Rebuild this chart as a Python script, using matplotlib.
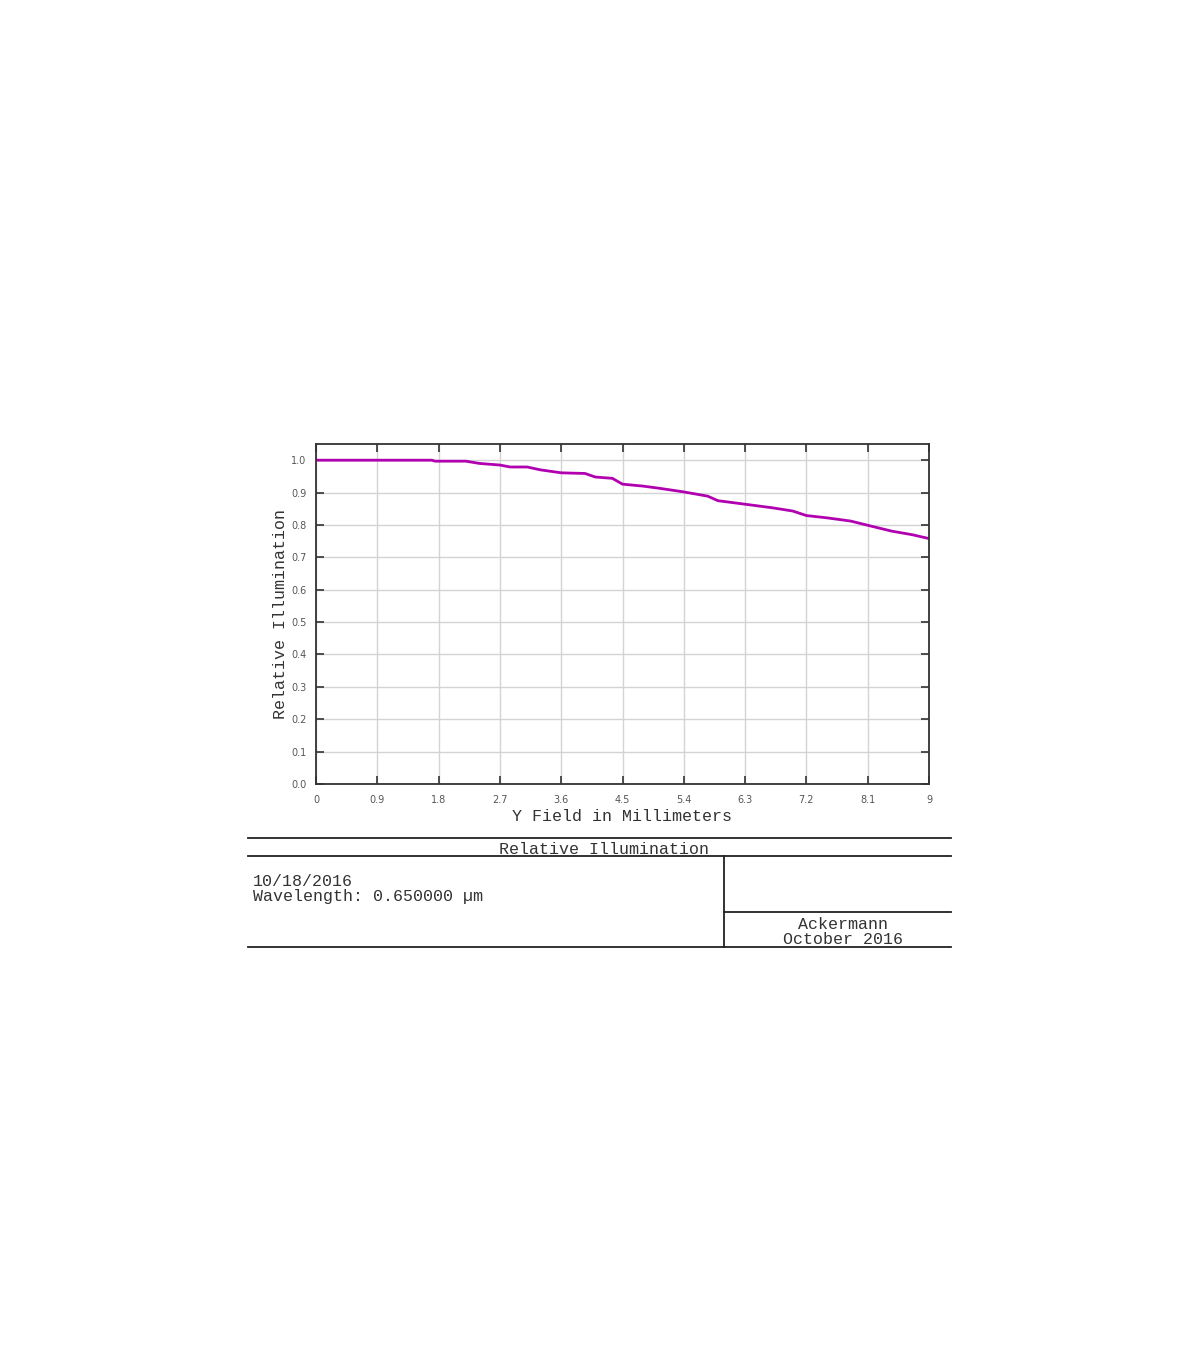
import matplotlib
matplotlib.use("Agg")
import matplotlib.pyplot as plt
from matplotlib.lines import Line2D

# ---- data ----
x_mm = [0, 1.7, 1.75, 2.2, 2.4, 2.7, 2.85, 3.1, 3.3, 3.6, 3.95, 4.1, 4.35, 4.5,
        4.8, 5.05, 5.4, 5.75, 5.9, 6.3, 6.7, 7.0, 7.2, 7.5, 7.85, 8.1, 8.45, 8.75, 9.0]
rel_illum = [1.0, 1.0, 0.997, 0.997, 0.99, 0.985, 0.979, 0.979, 0.97, 0.961, 0.959,
             0.948, 0.944, 0.926, 0.92, 0.913, 0.902, 0.889, 0.875, 0.864, 0.853,
             0.843, 0.829, 0.822, 0.812, 0.799, 0.781, 0.770, 0.758]
x_ticks = [0, 0.9, 1.8, 2.7, 3.6, 4.5, 5.4, 6.3, 7.2, 8.1, 9]
x_tick_labels = ["0", "0.9", "1.8", "2.7", "3.6", "4.5", "5.4", "6.3", "7.2", "8.1", "9"]
y_ticks = [0.0, 0.1, 0.2, 0.3, 0.4, 0.5, 0.6, 0.7, 0.8, 0.9, 1.0]
y_tick_labels = ["0.0", "0.1", "0.2", "0.3", "0.4", "0.5", "0.6", "0.7", "0.8", "0.9", "1.0"]
title_text = "Relative Illumination"
info_lines = ["10/18/2016", "Wavelength: 0.650000 \u00b5m"]
author_lines = ["Ackermann", "October 2016"]

W, H = 1200, 1372
fig = plt.figure(figsize=(W / 100, H / 100), dpi=100)
fig.patch.set_facecolor("white")

mono = "Liberation Mono"
dark = "#333333"

# ---- main plot ----
ax = fig.add_axes([316 / W, 1 - 784 / H, 613 / W, 340 / H])
ax.plot(x_mm, rel_illum, color="#b000b0", lw=2.0, solid_joinstyle="miter")
ax.set_xlim(0, 9)
ax.set_ylim(0, 1.05)
ax.set_xticks(x_ticks)
ax.set_xticklabels(x_tick_labels)
ax.set_yticks(y_ticks)
ax.set_yticklabels(y_tick_labels)
ax.grid(True, color="#d4d4d4", lw=1.0)
ax.set_axisbelow(True)
ax.tick_params(direction="in", length=6, width=1.2, color=dark,
               top=True, right=True, labelsize=7, labelcolor="#555555")
ax.tick_params(axis="x", pad=8)
ax.tick_params(axis="y", pad=7)
for s in ax.spines.values():
    s.set_color(dark)
    s.set_linewidth(1.3)
ax.set_xlabel("Y Field in Millimeters", family=mono, fontsize=12, color=dark, labelpad=3)
ax.set_ylabel("Relative Illumination", family=mono, fontsize=12, color=dark, labelpad=2)

# ---- title block (overlay in pixel coordinates) ----
ov = fig.add_axes([0, 0, 1, 1], zorder=-1)
ov.set_xlim(0, W)
ov.set_ylim(H, 0)
ov.axis("off")
lc = "#222222"
for (x0, x1, y0, y1) in [(248, 951, 838, 838), (248, 951, 856, 856),
                         (248, 951, 947, 947), (724, 724, 856, 947),
                         (724, 951, 912, 912)]:
    ov.add_line(Line2D([x0, x1], [y0, y1], color=lc, lw=1.3))

ov.text(604, 849, title_text, family=mono, fontsize=12, color=dark,
        ha="center", va="center")
ov.text(253, 889, "\n".join(info_lines), family=mono, fontsize=12, color=dark,
        ha="left", va="center", linespacing=0.92)
ov.text(843, 932, "\n".join(author_lines), family=mono, fontsize=12, color=dark,
        ha="center", va="center", linespacing=0.92)

fig.savefig("out.png", dpi=100, facecolor="white")
